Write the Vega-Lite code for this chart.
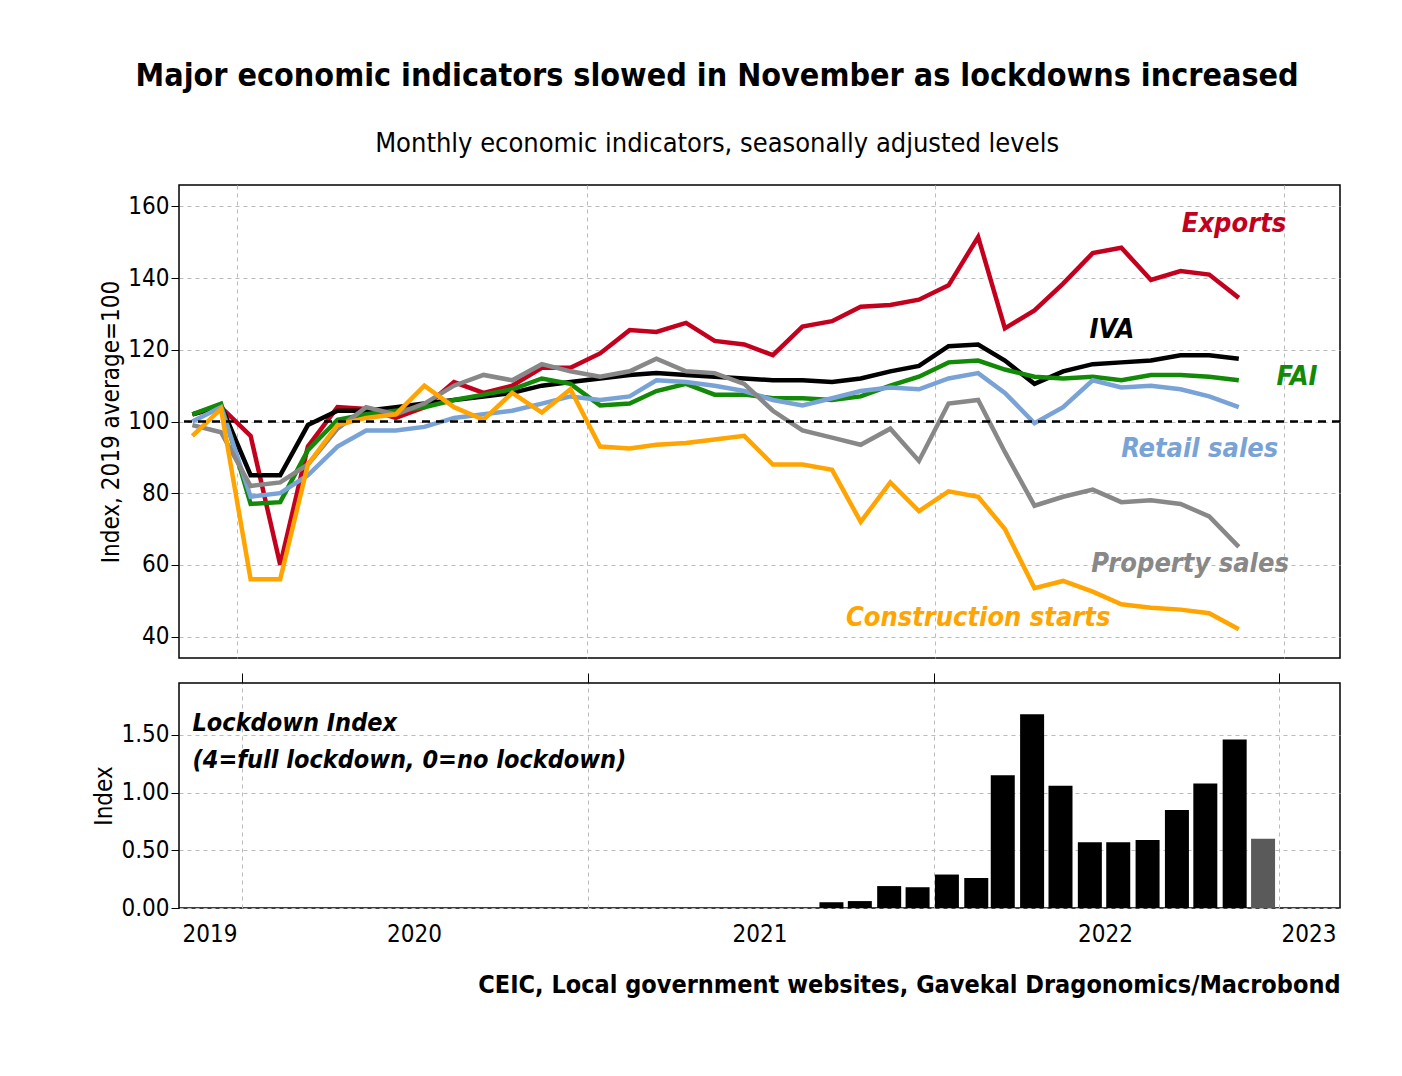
{
"$schema":"https://vega.github.io/schema/vega-lite/v6.json",
"padding":{"left":92,"top":60,"right":10,"bottom":10},
"config":{"font":"DejaVu Sans Condensed, Liberation Sans Narrow, Open Sans","view":{"stroke":"black","strokeWidth":1.5},
"axis":{"labelFontSize":24,"titleFontSize":24,"titleFontWeight":"normal","labelColor":"black","titleColor":"black","gridColor":"#bbbbbb","gridDash":[4,4],"tickColor":"black","domain":false,"tickSize":8}},
"title":{"text":"Major economic indicators slowed in November as lockdowns increased","subtitle":"Monthly economic indicators, seasonally adjusted levels","fontSize":32,"fontWeight":"bold","subtitleFontSize":27,"subtitlePadding":38,"anchor":"middle","offset":26,"color":"black","subtitleColor":"black"},
"resolve":{"scale":{"color":"independent"}},
"datasets":{
"ind":[
{"d":"2019-11-15","Exports":102,"IVA":102,"FAI":102,"Retail sales":100,"Property sales":99,"Construction starts":96},
{"d":"2019-12-15","Exports":104,"IVA":104.5,"FAI":105,"Retail sales":104,"Property sales":97,"Construction starts":103.5},
{"d":"2020-01-15","Exports":96,"IVA":85,"FAI":77,"Retail sales":79,"Property sales":82,"Construction starts":56},
{"d":"2020-02-15","Exports":60,"IVA":85,"FAI":77.5,"Retail sales":80,"Property sales":83,"Construction starts":56},
{"d":"2020-03-15","Exports":93,"IVA":99,"FAI":92,"Retail sales":85,"Property sales":88,"Construction starts":88},
{"d":"2020-04-15","Exports":104,"IVA":103,"FAI":100.5,"Retail sales":93,"Property sales":98,"Construction starts":99},
{"d":"2020-05-15","Exports":103.5,"IVA":103,"FAI":102,"Retail sales":97.5,"Property sales":104,"Construction starts":101},
{"d":"2020-06-15","Exports":101,"IVA":104,"FAI":103,"Retail sales":97.5,"Property sales":102,"Construction starts":102},
{"d":"2020-07-15","Exports":104,"IVA":105,"FAI":104,"Retail sales":98.5,"Property sales":105,"Construction starts":110},
{"d":"2020-08-15","Exports":111,"IVA":106,"FAI":106,"Retail sales":101,"Property sales":110,"Construction starts":104},
{"d":"2020-09-15","Exports":108,"IVA":107,"FAI":107.5,"Retail sales":102,"Property sales":113,"Construction starts":100.5},
{"d":"2020-10-15","Exports":110,"IVA":108,"FAI":109,"Retail sales":103,"Property sales":111.5,"Construction starts":108},
{"d":"2020-11-15","Exports":115,"IVA":110,"FAI":112,"Retail sales":105,"Property sales":116,"Construction starts":102.5},
{"d":"2020-12-15","Exports":115,"IVA":111,"FAI":110.5,"Retail sales":107,"Property sales":114,"Construction starts":109},
{"d":"2021-01-15","Exports":119,"IVA":112,"FAI":104.5,"Retail sales":106,"Property sales":112.5,"Construction starts":93},
{"d":"2021-02-15","Exports":125.5,"IVA":113,"FAI":105,"Retail sales":107,"Property sales":114,"Construction starts":92.5},
{"d":"2021-03-15","Exports":125,"IVA":113.5,"FAI":108.5,"Retail sales":111.5,"Property sales":117.5,"Construction starts":93.5},
{"d":"2021-04-15","Exports":127.5,"IVA":113,"FAI":110.5,"Retail sales":111,"Property sales":114,"Construction starts":94},
{"d":"2021-05-15","Exports":122.5,"IVA":112.5,"FAI":107.5,"Retail sales":110,"Property sales":113.5,"Construction starts":95},
{"d":"2021-06-15","Exports":121.5,"IVA":112,"FAI":107.5,"Retail sales":108.5,"Property sales":110.5,"Construction starts":96},
{"d":"2021-07-15","Exports":118.5,"IVA":111.5,"FAI":106.5,"Retail sales":106,"Property sales":103,"Construction starts":88},
{"d":"2021-08-15","Exports":126.5,"IVA":111.5,"FAI":106.5,"Retail sales":104.5,"Property sales":97.5,"Construction starts":88},
{"d":"2021-09-15","Exports":128,"IVA":111,"FAI":106,"Retail sales":106.5,"Property sales":95.5,"Construction starts":86.5},
{"d":"2021-10-15","Exports":132,"IVA":112,"FAI":107,"Retail sales":108.5,"Property sales":93.5,"Construction starts":72},
{"d":"2021-11-15","Exports":132.5,"IVA":114,"FAI":110,"Retail sales":109.5,"Property sales":98,"Construction starts":83},
{"d":"2021-12-15","Exports":134,"IVA":115.5,"FAI":112.5,"Retail sales":109,"Property sales":89,"Construction starts":75},
{"d":"2022-01-15","Exports":138,"IVA":121,"FAI":116.5,"Retail sales":112,"Property sales":105,"Construction starts":80.5},
{"d":"2022-02-15","Exports":151.5,"IVA":121.5,"FAI":117,"Retail sales":113.5,"Property sales":106,"Construction starts":79},
{"d":"2022-03-15","Exports":126,"IVA":117,"FAI":114.5,"Retail sales":108,"Property sales":91.5,"Construction starts":70},
{"d":"2022-04-15","Exports":131,"IVA":110.5,"FAI":112.5,"Retail sales":99.5,"Property sales":76.5,"Construction starts":53.5},
{"d":"2022-05-15","Exports":138.5,"IVA":114,"FAI":112,"Retail sales":104,"Property sales":79,"Construction starts":55.5},
{"d":"2022-06-15","Exports":147,"IVA":116,"FAI":112.5,"Retail sales":111.5,"Property sales":81,"Construction starts":52.5},
{"d":"2022-07-15","Exports":148.5,"IVA":116.5,"FAI":111.5,"Retail sales":109.5,"Property sales":77.5,"Construction starts":49},
{"d":"2022-08-15","Exports":139.5,"IVA":117,"FAI":113,"Retail sales":110,"Property sales":78,"Construction starts":48},
{"d":"2022-09-15","Exports":142,"IVA":118.5,"FAI":113,"Retail sales":109,"Property sales":77,"Construction starts":47.5},
{"d":"2022-10-15","Exports":141,"IVA":118.5,"FAI":112.5,"Retail sales":107,"Property sales":73.5,"Construction starts":46.5},
{"d":"2022-11-15","Exports":134.5,"IVA":117.5,"FAI":111.5,"Retail sales":104,"Property sales":65,"Construction starts":42}
],
"labels":[
{"label":"Exports","d":"2022-11-10","v":155},
{"label":"IVA","d":"2022-07-05","v":125.5},
{"label":"FAI","d":"2023-01-15","v":112.5},
{"label":"Retail sales","d":"2022-10-05","v":92.3},
{"label":"Property sales","d":"2022-09-25","v":60.3},
{"label":"Construction starts","d":"2022-02-15","v":45.2}
],
"lock":[
{"d":"2021-09-15","v":0.05,"status":"actual"},
{"d":"2021-10-15","v":0.06,"status":"actual"},
{"d":"2021-11-15","v":0.19,"status":"actual"},
{"d":"2021-12-15","v":0.18,"status":"actual"},
{"d":"2022-01-15","v":0.29,"status":"actual"},
{"d":"2022-02-15","v":0.26,"status":"actual"},
{"d":"2022-03-15","v":1.15,"status":"actual"},
{"d":"2022-04-15","v":1.68,"status":"actual"},
{"d":"2022-05-15","v":1.06,"status":"actual"},
{"d":"2022-06-15","v":0.57,"status":"actual"},
{"d":"2022-07-15","v":0.57,"status":"actual"},
{"d":"2022-08-15","v":0.59,"status":"actual"},
{"d":"2022-09-15","v":0.85,"status":"actual"},
{"d":"2022-10-15","v":1.08,"status":"actual"},
{"d":"2022-11-15","v":1.46,"status":"actual"},
{"d":"2022-12-15","v":0.6,"status":"estimate"}
],
"locktext":[
{"t":"Lockdown Index","d":"2019-11-10","v":1.6},
{"t":"(4=full lockdown, 0=no lockdown)","d":"2019-11-10","v":1.28}
]
},
"vconcat":[
{"width":1161,"height":473,
"layer":[
{"data":{"name":"ind"},
"transform":[{"fold":["Exports","IVA","FAI","Retail sales","Property sales","Construction starts"],"as":["series","value"]}],
"mark":{"type":"line","strokeWidth":4.5,"clip":true},
"encoding":{
"x":{"field":"d","type":"temporal","scale":{"type":"utc","domain":[{"year":2019,"month":11,"date":1,"utc":true},{"year":2023,"month":3,"date":1,"utc":true}]},
"axis":{"title":null,"labels":false,"ticks":false,"grid":true,"values":[{"year":2020,"month":1,"date":1,"utc":true},{"year":2021,"month":1,"date":1,"utc":true},{"year":2022,"month":1,"date":1,"utc":true},{"year":2023,"month":1,"date":1,"utc":true}]}},
"y":{"field":"value","type":"quantitative","scale":{"domain":[34,166],"nice":false,"zero":false},
"axis":{"title":"Index, 2019 average=100","values":[40,50,60,70,80,90,100,110,120,130,140,150,160],"labelExpr":"datum.value % 20 == 0 ? datum.value : ''"}},
"color":{"field":"series","type":"nominal","legend":null,"scale":{"domain":["Exports","IVA","FAI","Retail sales","Property sales","Construction starts"],"range":["#c4001f","#000000","#138a07","#79a3d6","#888888","#ffa400"]}},
"order":{"field":"series"}
}},
{"data":{"values":[{"y":100}]},"mark":{"type":"rule","strokeDash":[8,6],"strokeWidth":2.5,"color":"black"},"encoding":{"y":{"field":"y","type":"quantitative"}}},
{"data":{"name":"labels"},"mark":{"type":"text","fontSize":27,"fontStyle":"italic","fontWeight":"bold","align":"center","baseline":"middle"},
"encoding":{"x":{"field":"d","type":"temporal"},"y":{"field":"v","type":"quantitative"},"text":{"field":"label"},"color":{"field":"label","type":"nominal","legend":null}}}
]},
{"width":1161,"height":225,
"layer":[
{"data":{"name":"lock"},"mark":{"type":"bar","width":24},
"encoding":{
"x":{"field":"d","type":"temporal","scale":{"type":"utc","domain":[{"year":2019,"month":11,"date":1,"utc":true},{"year":2023,"month":3,"date":1,"utc":true}]},
"axis":{"title":"CEIC, Local government websites, Gavekal Dragonomics/Macrobond","titleFontWeight":"bold","titleFontSize":25,"titleAnchor":"end","titlePadding":26,"grid":false,"ticks":false,"labelPadding":14,
"values":[{"year":2019,"month":11,"date":28,"utc":true},{"year":2020,"month":7,"date":1,"utc":true},{"year":2021,"month":7,"date":1,"utc":true},{"year":2022,"month":7,"date":1,"utc":true},{"year":2023,"month":2,"date":1,"utc":true}],
"labelExpr":"utcFormat(datum.value,'%Y')"}},
"y":{"field":"v","type":"quantitative","scale":{"domain":[0,1.95],"nice":false},
"axis":{"title":"Index","values":[0,0.25,0.5,0.75,1,1.25,1.5,1.75],"labelExpr":"(datum.value*100) % 50 == 0 ? format(datum.value,'.2f') : ''"}},
"color":{"field":"status","type":"nominal","legend":null,"scale":{"domain":["actual","estimate"],"range":["#000000","#5a5a5a"]}}
}},
{"data":{"name":"locktext"},"mark":{"type":"text","fontSize":25,"fontStyle":"italic","fontWeight":"bold","align":"left","baseline":"middle","color":"black"},
"encoding":{"x":{"field":"d","type":"temporal",
"axis":{"title":null,"labels":false,"grid":true,"ticks":true,"tickSize":10,"values":[{"year":2020,"month":1,"date":1,"utc":true},{"year":2021,"month":1,"date":1,"utc":true},{"year":2022,"month":1,"date":1,"utc":true},{"year":2023,"month":1,"date":1,"utc":true}]}},
"y":{"field":"v","type":"quantitative"},"text":{"field":"t"}}}
],
"resolve":{"axis":{"x":"independent"}}
}
],
"spacing":12
}
